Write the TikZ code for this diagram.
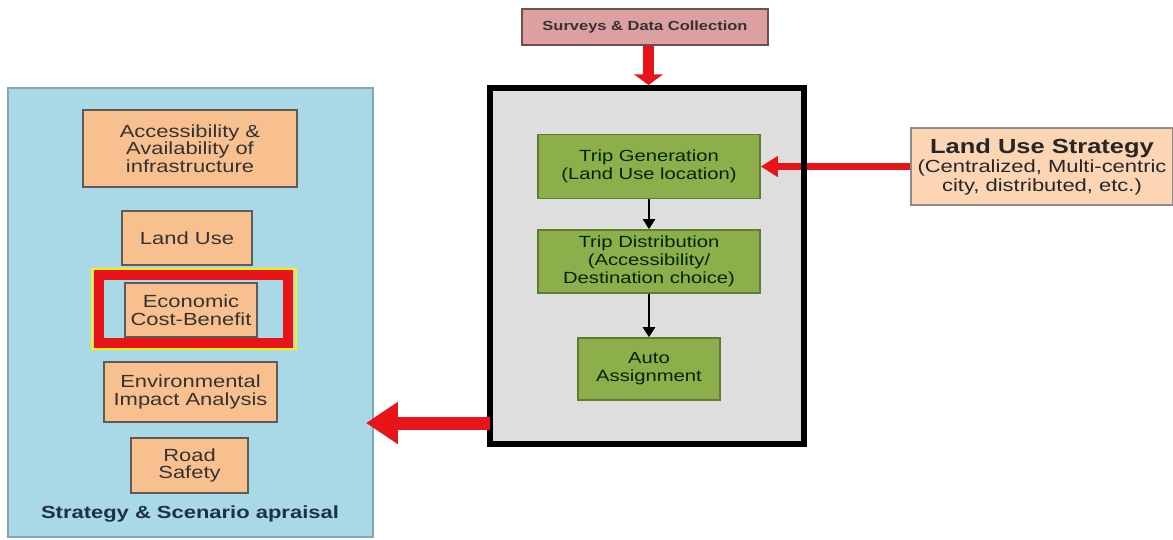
\documentclass[tikz,border=0pt]{standalone}
\usepackage{fontspec}
\setmainfont{Liberation Sans}[FakeStretch=1.25]
\usepackage{xcolor}
\usetikzlibrary{arrows.meta}

\definecolor{panelblue}{HTML}{A9D8E6}
\definecolor{paneledge}{HTML}{7FA9B9}
\definecolor{peach}{HTML}{F9C08F}
\definecolor{lightpeach}{HTML}{FCD5B4}
\definecolor{boxedge}{HTML}{5E5A56}
\definecolor{olive}{HTML}{8CAF4B}
\definecolor{oliveedge}{HTML}{5F7C30}
\definecolor{modelgray}{HTML}{DEDEDE}
\definecolor{surveypink}{HTML}{DCA0A0}
\definecolor{surveyedge}{HTML}{6E4E4E}
\definecolor{arrowred}{HTML}{E8141A}
\definecolor{titleblue}{HTML}{1D3340}

\begin{document}
\begin{tikzpicture}[x=0.02cm,y=-0.02cm,
  orangebox/.style={draw=boxedge, line width=0.9pt, fill=peach, inner sep=0pt, align=center,
    text=black!80, font=\fontsize{10}{10}\selectfont},
  greenbox/.style={draw=oliveedge, line width=0.9pt, fill=olive, inner sep=0pt, align=center,
    text=black!85!green, font=\fontsize{9.2}{10.3}\selectfont},
  redarrow/.style={draw=arrowred, line width=6.3pt, -{Triangle[width=16pt,length=6pt]}},
  blackarrow/.style={draw=black, line width=1.4pt, -{Triangle[width=6.8pt,length=5.7pt]}}]
  \useasboundingbox (0,0) rectangle (1173,539);

  % Appraisal panel on the left
  \node[draw=paneledge, line width=1pt, fill=panelblue, minimum width=7.3cm, minimum height=8.98cm]
    (panel) at (190.5,312.5) {};
  \node[orangebox, minimum width=4.28cm, minimum height=1.54cm] (access) at (190,148.5)
    {Accessibility \&\\Availability of\\infrastructure};
  \node[orangebox, minimum width=2.6cm, minimum height=1.08cm] (landuse) at (187,238) {Land Use};
  % Highlight round the cost-benefit box
  \node[draw=yellow, line width=1.2pt, minimum width=4.08cm, minimum height=1.6cm] (glow) at (194,309) {};
  \node[draw=arrowred, line width=6pt, minimum width=3.78cm, minimum height=1.36cm] (focus) at (193.5,309) {};
  \node[orangebox, minimum width=2.64cm, minimum height=1.08cm] (econ) at (191,310) {Economic\\Cost-Benefit};
  \node[orangebox, minimum width=3.46cm, minimum height=1.2cm] (env) at (190.5,392)
    {Environmental\\Impact Analysis};
  \node[orangebox, minimum width=2.34cm, minimum height=1.1cm] (safety) at (189.5,465.5) {Road\\Safety};
  \node[text=titleblue, font=\bfseries\fontsize{10}{10}\selectfont] (apraisal) at (190,514)
    {Strategy \& Scenario apraisal};

  % Inputs
  \node[draw=surveyedge, line width=0.9pt, fill=surveypink, minimum width=4.92cm, minimum height=0.72cm,
    inner sep=0pt, font=\bfseries\fontsize{7.5}{8}\selectfont, text=black!80] (survey) at (645,27)
    {Surveys \& Data Collection};
  \node[draw=boxedge!70, line width=0.8pt, fill=lightpeach, minimum width=5.24cm, minimum height=1.54cm,
    inner sep=0pt, align=center, font=\fontsize{10}{10.3}\selectfont, text=black!85] (strategy) at (1042,166.5)
    {{\bfseries\fontsize{11.6}{14}\selectfont Land Use Strategy}\\[1pt]
     (Centralized, Multi-centric\\city, distributed, etc.)};

  % Travel model
  \node[fill=modelgray, minimum width=6.28cm, minimum height=7.12cm, inner sep=0pt] (model) at (647,266) {};
  \node[greenbox, minimum width=4.44cm, minimum height=1.28cm] (tripgen) at (649,166.5)
    {Trip Generation\\(Land Use location)};
  \node[greenbox, minimum width=4.44cm, minimum height=1.26cm] (tripdist) at (649,261.5)
    {Trip Distribution\\(Accessibility/\\Destination choice)};
  \node[greenbox, minimum width=2.84cm, minimum height=1.24cm] (assign) at (649,369)
    {Auto\\Assignment};

  % Connectors
  \draw[blackarrow] (tripgen) -- (tripdist);
  \draw[blackarrow] (tripdist) -- (assign);
  \draw[draw=arrowred, line width=4.4pt, -{Triangle[width=11.4pt,length=9.7pt]}] (strategy.west) -- (tripgen.east);
  \draw[draw=black, line width=3.4pt] (model.north west) rectangle (model.south east);
  \draw[redarrow] (survey.south -| 648.5,0) -- (648.5,85);
  \draw[draw=arrowred, line width=7.4pt, -{Triangle[width=22.8pt,length=18.2pt]}, shorten >=-4.5pt]
    (model.west |- 0,423) -- (panel.east |- 0,423);
\end{tikzpicture}
\end{document}
